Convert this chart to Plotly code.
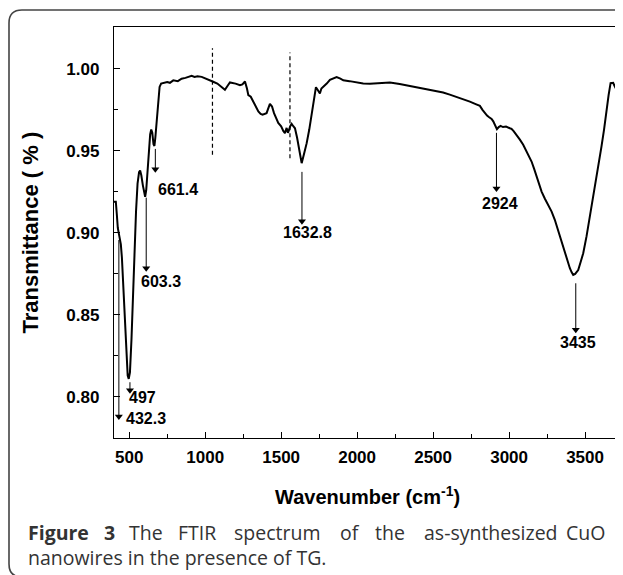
import plotly.graph_objects as go

# ---------------- data ----------------
WAVENUMBER = [400, 412, 418, 425, 435, 445, 452, 460, 470, 480, 490, 497, 505, 515, 525, 535, 545, 555, 565, 572,
              580, 590, 598, 605, 612, 620, 630, 638, 645, 652, 660, 666, 672, 680, 690, 700, 710,
              730, 750, 768, 790, 820, 845, 870, 890, 911, 930, 950, 977, 1010, 1049, 1080, 1110, 1130,
              1150, 1163, 1200, 1229, 1245, 1262, 1275, 1284, 1300, 1317, 1335, 1350, 1365, 1378, 1404, 1426,
              1440, 1453, 1481, 1500, 1515, 1525, 1536, 1545, 1560, 1569, 1580, 1591, 1605, 1620, 1635,
              1650, 1668, 1685, 1700, 1715, 1729, 1742, 1755, 1765, 1777, 1800, 1821, 1845, 1865, 1890,
              1909, 1950, 1997, 2040, 2084, 2150, 2216, 2280, 2347, 2400, 2457, 2510, 2566, 2610, 2654,
              2700, 2742, 2780, 2808, 2825, 2841, 2855, 2869, 2885, 2896, 2910, 2920, 2932, 2944, 2960,
              2980, 3005, 3016, 3030, 3049, 3070, 3093, 3120, 3148, 3165, 3181, 3200, 3214, 3235, 3257,
              3280, 3301, 3318, 3334, 3350, 3367, 3385, 3400, 3412, 3422, 3435, 3445, 3455, 3470, 3488,
              3510, 3532, 3555, 3575, 3592, 3608, 3625, 3641, 3655, 3668, 3678, 3685, 3692, 3703, 3715, 3730]
TRANSMITTANCE = [0.919, 0.919, 0.912, 0.903, 0.898, 0.893, 0.885, 0.868, 0.845, 0.825, 0.813, 0.811, 0.815, 0.835,
                 0.862, 0.890, 0.913, 0.930, 0.937, 0.938,
                 0.935, 0.929, 0.924, 0.922, 0.926, 0.938, 0.952, 0.960, 0.963, 0.961, 0.954, 0.953, 0.958,
                 0.968, 0.981, 0.989, 0.991,
                 0.9915, 0.9920, 0.9915, 0.9930, 0.9925, 0.9940, 0.9945, 0.9950, 0.9957, 0.9950, 0.9955,
                 0.9951, 0.9940, 0.9923, 0.9910, 0.9890, 0.9872,
                 0.9900, 0.9917, 0.9910, 0.9900, 0.9905, 0.9923, 0.9880, 0.9840, 0.9830, 0.9800, 0.9770,
                 0.9740, 0.9725, 0.9720, 0.9730, 0.9787,
                 0.9770, 0.9730, 0.9670, 0.9650, 0.9620, 0.9608, 0.9640, 0.9610, 0.9650, 0.9665, 0.9650,
                 0.9638, 0.9580, 0.9500, 0.9425,
                 0.9480, 0.9547, 0.9630, 0.9720, 0.9810, 0.9888, 0.9870, 0.9850, 0.9880, 0.9890, 0.9910,
                 0.9933, 0.9945, 0.9950, 0.9940,
                 0.9930, 0.9925, 0.9917, 0.9910, 0.9909, 0.9915, 0.9917, 0.9908, 0.9896, 0.9890, 0.9880,
                 0.9868, 0.9856, 0.9843, 0.9830,
                 0.9815, 0.9800, 0.9785, 0.9774, 0.9750, 0.9730, 0.9715, 0.9705, 0.9695, 0.9680, 0.9650,
                 0.9632, 0.9645, 0.9652, 0.9645,
                 0.9648, 0.9638, 0.9634, 0.9620, 0.9598, 0.9570, 0.9537, 0.9490, 0.9435, 0.9390, 0.9343,
                 0.9290, 0.9252, 0.9210, 0.9170,
                 0.9130, 0.9080, 0.9030, 0.8977, 0.8930, 0.8876, 0.8830, 0.8785, 0.8760, 0.8744, 0.8750,
                 0.8765, 0.8774, 0.8820, 0.8876,
                 0.8980, 0.9100, 0.9220, 0.9343, 0.9440, 0.9526, 0.9630, 0.9750, 0.9840, 0.9913, 0.9917,
                 0.9915, 0.9900, 0.9880, 0.9820, 0.9740]

# peak labels: text, arrow x, arrow start T, arrow end T (tip), label x, label T, label anchor
PEAK_TEXT = ["432.3", "497", "603.3", "661.4", "1632.8", "2924", "3435"]
ARROW_X = [432, 505, 612, 672, 1637, 2917, 3439]
ARROW_START = [0.8957, 0.8090, 0.9215, 0.9512, 0.9372, 0.9610, 0.8693]
ARROW_END = [0.7860, 0.8020, 0.8764, 0.9366, 0.9049, 0.9250, 0.8388]
LABEL_X = [466, 483, 709, 818, 1676, 2939, 3453]
LABEL_T = [0.7866, 0.7994, 0.8703, 0.9262, 0.9000, 0.9177, 0.8334]
LABEL_ANCHOR = ["left", "left", "center", "center", "center", "center", "center"]

DASH_X = [1048, 1558]
DASH_TOP = [1.0126, 1.0099]
DASH_BOTTOM = [0.9476, 0.9455]

X_RANGE = [400, 3730]
Y_RANGE = [0.775, 1.0255]
X_TICKS = [500, 1000, 1500, 2000, 2500, 3000, 3500]
Y_TICKS = [0.80, 0.85, 0.90, 0.95, 1.00]

CAPTION_WORDS = ["Figure", "3", "The", "FTIR", "spectrum", "of", "the", "as-synthesized", "CuO"]
CAPTION_BOLD = [True, True, False, False, False, False, False, False, False]
CAPTION_PX = [26, 102, 127, 176, 232, 338, 373, 422, 564]
CAPTION_LINE2 = "nanowires in the presence of TG."

# ---------------- layout geometry (page pixels; the page body has an 8px margin) ----------------
OFF = 8
W, H = 623 - OFF, 575 - OFF
PLOT_L, PLOT_R, PLOT_T, PLOT_B = 114, 620, 27, 438      # page pixel positions of the plot frame
ML, MT = PLOT_L - OFF, PLOT_T - OFF
MR, MB = W - (PLOT_R - OFF), H - (PLOT_B - OFF)
PW, PH = PLOT_R - PLOT_L, PLOT_B - PLOT_T
HEAD_SHIFT = 3.5 / PH * (Y_RANGE[1] - Y_RANGE[0])       # half arrow-head height in data units


def px_x(px):
    return (px - PLOT_L) / PW


def px_y(py):
    return (PLOT_B - py) / PH


fig = go.Figure()
fig.add_trace(go.Scatter(x=WAVENUMBER, y=TRANSMITTANCE, mode="lines",
                         line=dict(color="black", width=2), showlegend=False, hoverinfo="skip"))

for xd, yt, yb in zip(DASH_X, DASH_TOP, DASH_BOTTOM):
    fig.add_shape(type="line", xref="x", yref="y", x0=xd, x1=xd, y0=yb, y1=yt,
                  line=dict(color="black", width=1.2, dash="4px,3px"))

# arrows: shaft + filled head
for xa, s, e in zip(ARROW_X, ARROW_START, ARROW_END):
    fig.add_trace(go.Scatter(x=[xa, xa], y=[s, e + HEAD_SHIFT], mode="lines",
                             line=dict(color="black", width=1), showlegend=False, hoverinfo="skip"))
    fig.add_trace(go.Scatter(x=[xa], y=[e + HEAD_SHIFT], mode="markers",
                             marker=dict(symbol="triangle-down", size=7, color="black", line=dict(width=0)),
                             showlegend=False, hoverinfo="skip"))

annotations = []
lab_font = dict(family="Liberation Sans, Arial", size=16, color="black")
for t, lx, ly, anc in zip(PEAK_TEXT, LABEL_X, LABEL_T, LABEL_ANCHOR):
    annotations.append(dict(x=lx, y=ly, xref="x", yref="y", showarrow=False, text="<b>%s</b>" % t,
                            xanchor=anc, yanchor="middle", font=lab_font))

annotations.append(dict(x=px_x(30), y=0.5, xref="paper", yref="paper", showarrow=False,
                        text="<b>Transmittance ( % )</b>", textangle=-90,
                        font=dict(family="Liberation Sans, Arial", size=22, color="black"),
                        xanchor="center", yanchor="middle"))
annotations.append(dict(x=0.5, y=px_y(495), xref="paper", yref="paper", showarrow=False,
                        text="<b>Wavenumber (cm<sup>-1</sup>)</b>",
                        font=dict(family="Liberation Sans, Arial", size=20, color="black"),
                        xanchor="center", yanchor="middle"))

cap_font = dict(family="Open Sans, Noto Sans", size=19.5, color="#333333")
for wd, b, pxl in zip(CAPTION_WORDS, CAPTION_BOLD, CAPTION_PX):
    annotations.append(dict(x=px_x(pxl), y=px_y(532), xref="paper", yref="paper", showarrow=False,
                            text=("<b>%s</b>" % wd) if b else wd, font=cap_font,
                            xanchor="left", yanchor="middle"))
annotations.append(dict(x=px_x(26), y=px_y(557), xref="paper", yref="paper", showarrow=False,
                        text=CAPTION_LINE2, font=cap_font, xanchor="left", yanchor="middle"))

# rounded outer frame (partly cut off at right/bottom)
L, T, R, B, r = 9, 10, 650, 577, 13
path = ("M {a},{b} Q {c},{d} {e},{f} L {g},{f} L {g},{h} L {i},{h} Q {c},{h} {c},{j} Z").format(
    a=px_x(L), b=px_y(T + r), c=px_x(L), d=px_y(T), e=px_x(L + r), f=px_y(T),
    g=px_x(R), h=px_y(B), i=px_x(L + r), j=px_y(B - r))
fig.add_shape(type="path", xref="paper", yref="paper", path=path,
              line=dict(color="#444444", width=1.6), layer="below")

axis_common = dict(showgrid=False, zeroline=False, showline=True, linecolor="black", linewidth=1.3,
                   mirror=True, ticks="inside", tickcolor="black", tickwidth=1.2, ticklen=6,
                   tickfont=dict(family="Liberation Sans, Arial", size=17, color="black"))

fig.update_xaxes(range=X_RANGE, tickvals=X_TICKS, ticktext=["<b>%d</b>" % v for v in X_TICKS],
                 minor=dict(ticks="inside", ticklen=3.5, tickwidth=1.2, tickcolor="black", dtick=250, tick0=0),
                 ticklabelstandoff=3, **axis_common)
fig.update_yaxes(range=Y_RANGE, tickvals=Y_TICKS, ticktext=["<b>%.2f</b>" % v for v in Y_TICKS],
                 minor=dict(ticks="inside", ticklen=3.5, tickwidth=1.2, tickcolor="black", dtick=0.025, tick0=0.8),
                 ticklabelstandoff=10, **axis_common)

fig.update_layout(width=W, height=H, margin=dict(l=ML, r=MR, t=MT, b=MB, pad=0),
                  paper_bgcolor="white", plot_bgcolor="white", annotations=annotations, showlegend=False)

fig.write_html("out.html")
